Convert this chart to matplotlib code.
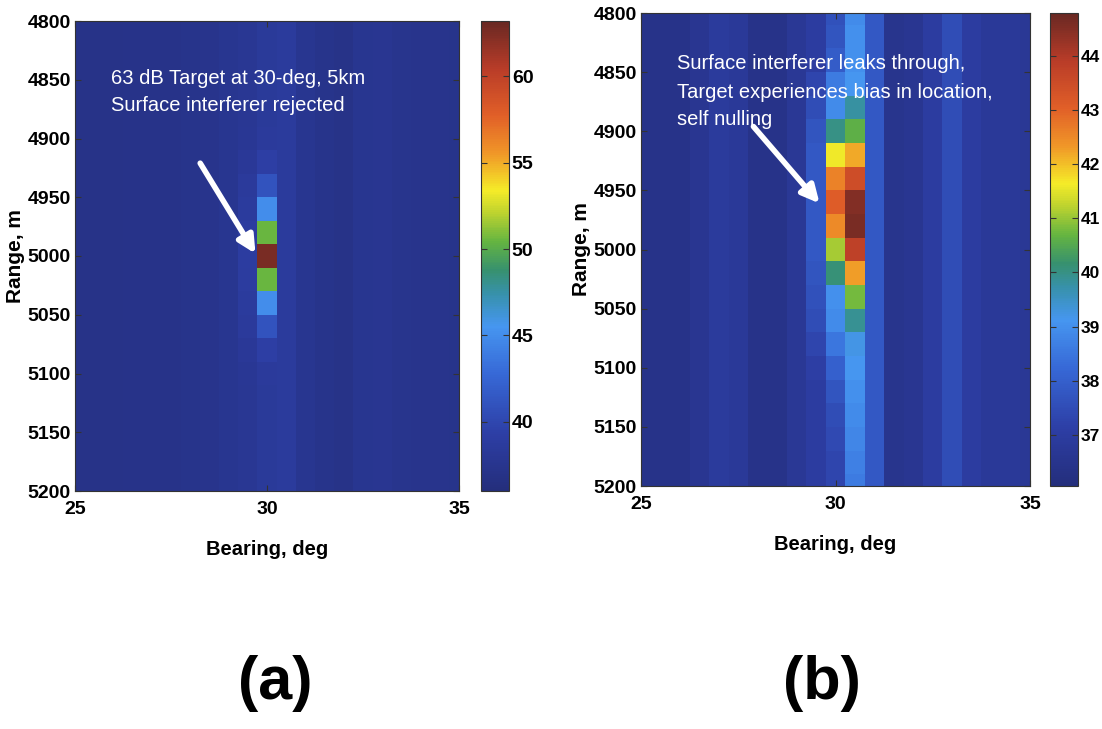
import numpy as np
import matplotlib
matplotlib.use("Agg")
import matplotlib.pyplot as plt
from matplotlib.colors import LinearSegmentedColormap
from matplotlib.font_manager import FontProperties

# ---------------- data ----------------
bearings = [25.0, 25.5, 26.0, 26.5, 27.0, 27.5, 28.0, 28.5, 29.0, 29.5, 30.0,
            30.5, 31.0, 31.5, 32.0, 32.5, 33.0, 33.5, 34.0, 34.5, 35.0]
ranges = [4800, 4820, 4840, 4860, 4880, 4900, 4920, 4940, 4960, 4980, 5000,
          5020, 5040, 5060, 5080, 5100, 5120, 5140, 5160, 5180, 5200]

# panel (a): background level per bearing column (dB)
bg_a = [37.0, 37.0, 37.0, 37.1, 37.1, 37.1, 37.2, 37.3, 37.6, 37.9, 38.4,
        38.6, 37.6, 37.2, 37.0, 37.6, 37.8, 37.4, 37.3, 37.3, 37.2]
# panel (a): column at 29.5 deg (glow) and 30.0 deg (target) per range row
glow_a = [37.9, 37.9, 37.9, 37.9, 37.9, 38.0, 38.2, 38.5, 38.7, 38.8, 38.9,
          38.8, 38.7, 38.5, 38.2, 38.0, 37.9, 37.9, 37.9, 37.9, 37.9]
target_a = [38.4, 38.4, 38.4, 38.4, 38.4, 38.5, 39.2, 41.0, 45.0, 50.5, 62.6,
            50.5, 45.0, 41.0, 39.2, 38.5, 38.4, 38.4, 38.4, 38.4, 38.4]

# panel (b): background level per bearing column (dB)
bg_b = [36.4, 36.4, 36.4, 36.6, 36.9, 36.8, 36.4, 36.4, 36.7, 37.0, 37.6,
        38.9, 37.8, 36.5, 36.6, 37.0, 37.5, 37.0, 36.8, 36.8, 36.7]
glow_b = [37.0, 37.0, 37.0, 37.3, 37.5, 37.7, 37.8, 37.8, 37.8, 37.8, 37.8,
          37.7, 37.6, 37.5, 37.3, 37.1, 37.0, 37.0, 37.0, 37.0, 37.0]
left_b = [37.6, 37.7, 37.9, 38.6, 38.9, 40.0, 41.6, 42.6, 43.1, 42.5, 41.1,
          40.1, 39.0, 38.9, 38.5, 38.0, 37.7, 37.5, 37.4, 37.3, 37.3]
right_b = [38.9, 39.0, 39.0, 39.1, 39.8, 40.6, 42.2, 43.5, 44.5, 44.6, 43.8,
           42.3, 40.8, 39.9, 39.2, 39.1, 39.0, 38.9, 38.8, 38.7, 38.6]

clim_a = (36.0, 63.2)
clim_b = (36.05, 44.8)
cticks_a = [40, 45, 50, 55, 60]
cticks_b = [37, 38, 39, 40, 41, 42, 43, 44]
xticks = [25, 30, 35]
yticks = [4800, 4850, 4900, 4950, 5000, 5050, 5100, 5150, 5200]

text_a = ["63 dB Target at 30-deg, 5km", "Surface interferer rejected"]
text_b = ["Surface interferer leaks through,",
          "Target experiences bias in location,", "self nulling"]

# ---------------- build grids ----------------
nr = len(ranges)
Za = np.tile(np.array(bg_a), (nr, 1))
Za[:, bearings.index(29.5)] = glow_a
Za[:, bearings.index(30.0)] = target_a

Zb = np.tile(np.array(bg_b), (nr, 1))
Zb[:, bearings.index(29.5)] = glow_b
Zb[:, bearings.index(30.0)] = left_b
Zb[:, bearings.index(30.5)] = right_b

def edges(c):
    c = np.asarray(c, float)
    d = np.diff(c)
    return np.concatenate([[c[0] - d[0] / 2], c[:-1] + d / 2, [c[-1] + d[-1] / 2]])

xe, ye = edges(bearings), edges(ranges)

# washed-out jet, as in the reference
cmap = LinearSegmentedColormap.from_list("washjet", [
    (0.00, (36/255, 46/255, 124/255)),
    (0.12, (45/255, 62/255, 165/255)),
    (0.25, (55/255, 105/255, 215/255)),
    (0.35, (70/255, 150/255, 240/255)),
    (0.42, (55/255, 145/255, 170/255)),
    (0.47, (55/255, 145/255, 110/255)),
    (0.53, (100/255, 180/255, 65/255)),
    (0.60, (200/255, 215/255, 45/255)),
    (0.64, (245/255, 235/255, 40/255)),
    (0.72, (240/255, 150/255, 40/255)),
    (0.80, (225/255, 95/255, 40/255)),
    (0.90, (185/255, 60/255, 40/255)),
    (1.00, (105/255, 40/255, 35/255)),
])

FONT = ['Liberation Sans Narrow', 'Liberation Sans', 'DejaVu Sans']
plt.rcParams['font.family'] = FONT

W, H = 1102, 729
fig = plt.figure(figsize=(W / 100, H / 100), dpi=100)

def px(l, t, r, b):
    return [l / W, 1 - b / H, (r - l) / W, (b - t) / H]

panels = [
    dict(Z=Za, clim=clim_a, cticks=cticks_a, ax=px(75, 21, 459, 491), cb=px(481, 21, 509, 491),
         text=text_a, tx=25.95, ty=[4854, 4877], arrow=((28.26, 4921), (29.70, 4998)),
         label="(a)", lx=275, csize=14),
    dict(Z=Zb, clim=clim_b, cticks=cticks_b, ax=px(641, 13, 1030, 486), cb=px(1050, 13, 1078, 486),
         text=text_b, tx=25.92, ty=[4847, 4872, 4895], arrow=((27.89, 4896), (29.59, 4961)),
         label="(b)", lx=822, csize=12.5),
]

tickprops = FontProperties(family=FONT, weight='bold', size=14)

for p in panels:
    ax = fig.add_axes(p['ax'])
    m = ax.pcolormesh(xe, ye, p['Z'], cmap=cmap, vmin=p['clim'][0], vmax=p['clim'][1],
                      shading='flat', rasterized=True)
    ax.set_xlim(25, 35)
    ax.set_ylim(5200, 4800)
    ax.set_xticks(xticks)
    ax.set_yticks(yticks)
    ax.tick_params(direction='in', length=4, width=0.8, color='#333333',
                   top=True, right=True)
    ax.tick_params(axis='x', pad=7)
    ax.tick_params(axis='y', pad=3)
    for lab in ax.get_xticklabels() + ax.get_yticklabels():
        lab.set_fontproperties(tickprops)
    for s in ax.spines.values():
        s.set_linewidth(0.8)
        s.set_color('#333333')
    ax.set_xlabel("Bearing, deg", fontsize=14.5, fontweight='bold', labelpad=16)
    ax.set_ylabel("Range, m", fontsize=15, fontweight='bold', labelpad=2)

    for line, y in zip(p['text'], p['ty']):
        ax.text(p['tx'], y, line, color='white', fontsize=14.5, va='baseline', ha='left')
    (x0, y0), (x1, y1) = p['arrow']
    ax.annotate('', xy=(x1, y1), xytext=(x0, y0),
                arrowprops=dict(arrowstyle='-|>', color='white', lw=4,
                                mutation_scale=26, shrinkA=0, shrinkB=0))

    cax = fig.add_axes(p['cb'])
    cb = fig.colorbar(m, cax=cax, ticks=p['cticks'])
    cb.outline.set_linewidth(0.8)
    cb.outline.set_edgecolor('#333333')
    cax.tick_params(direction='in', length=4, width=0.8, color='#333333',
                    left=True, right=True, pad=2)
    cprops = FontProperties(family=FONT, weight='bold', size=p['csize'])
    for lab in cax.get_yticklabels():
        lab.set_fontproperties(cprops)

    fig.text(p['lx'] / W, 1 - 683 / H, p['label'], fontsize=44, fontweight='bold',
             ha='center', va='center')

fig.savefig("out.png", dpi=100, facecolor='white')
